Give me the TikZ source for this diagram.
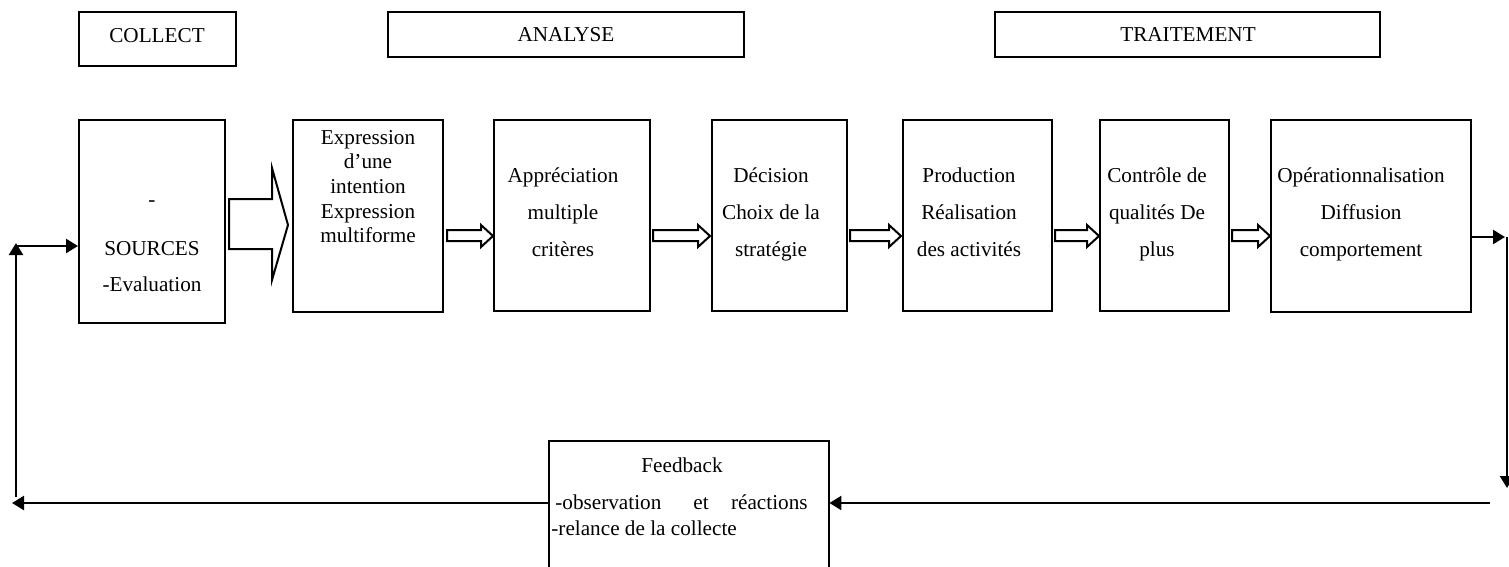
\documentclass[tikz,border=0pt]{standalone}
\usepackage{fontspec}
\setmainfont{Liberation Serif}
\usetikzlibrary{arrows.meta,fit}
\begin{document}
\begin{tikzpicture}[x=0.5pt,y=-0.5pt,
  box/.style={draw, line width=1pt, inner sep=0pt},
  txt/.style={font=\fontsize{10.6}{12}\selectfont, inner sep=0pt, anchor=base},
  flow/.style={line width=1.2pt, -{Triangle[length=6pt,width=7pt]}},
  hollow/.style={draw, line width=1pt, fill=white, line join=miter}]
\useasboundingbox (0,0) rectangle (1509,567);

% phase headers
\node[box, fit={(79,12)(236,66)}] (collect) {};
\node[box, fit={(388,12)(744,57)}] (analyse) {};
\node[box, fit={(995,12)(1380,57)}] (traitement) {};
\node[txt] (collectT) at (157,43) {COLLECT};
\node[txt] (analyseT) at (566,42) {ANALYSE};
\node[txt] (traitementT) at (1188,42) {TRAITEMENT};

% process steps
\node[box, fit={(79,120)(225,323)}] (src) {};
\node[box, fit={(293,120)(443,312)}] (expr) {};
\node[box, fit={(494,120)(650,311)}] (appr) {};
\node[box, fit={(712,120)(847,311)}] (dec) {};
\node[box, fit={(903,120)(1052,311)}] (prod) {};
\node[box, fit={(1100,120)(1229,311)}] (ctrl) {};
\node[box, fit={(1271,120)(1471,312)}] (oper) {};

% step texts
\node[txt] (src1) at (152,206) {-};
\node[txt] (src2) at (152,255) {SOURCES};
\node[txt] (src3) at (152,291) {-Evaluation};

\node[txt] (expr1) at (368,145) {Expression};
\node[txt] (expr2) at (368,169) {d’une};
\node[txt] (expr3) at (368,193) {intention};
\node[txt] (expr4) at (368,218) {Expression};
\node[txt] (expr5) at (368,242) {multiforme};

\node[txt] (appr1) at (563,182) {Appréciation};
\node[txt] (appr2) at (563,219) {multiple};
\node[txt] (appr3) at (563,256) {critères};

\node[txt] (dec1) at (771,182) {Décision};
\node[txt] (dec2) at (771,219) {Choix de la};
\node[txt] (dec3) at (771,256) {stratégie};

\node[txt] (prod1) at (969,182) {Production};
\node[txt] (prod2) at (969,219) {Réalisation};
\node[txt] (prod3) at (969,256) {des activités};

\node[txt] (ctrl1) at (1157,182) {Contrôle de};
\node[txt] (ctrl2) at (1157,219) {qualités De};
\node[txt] (ctrl3) at (1157,256) {plus};

\node[txt] (oper1) at (1361,182) {Opérationnalisation};
\node[txt] (oper2) at (1361,219) {Diffusion};
\node[txt] (oper3) at (1361,256) {comportement};

% feedback box, open at the bottom edge
\node[inner sep=0pt, fit={(549,441)(829,570)}] (fb) {};
\draw[line width=1pt] (fb.south west) |- (fb.north east) -- (fb.south east);
\node[txt] (fb1) at (682,472) {Feedback};
\node[txt, anchor=base west] (fb2) at (555,509) {-observation};
\node[txt] (fb3) at (701,509) {et};
\node[txt, anchor=base east] (fb4) at (808,509) {réactions};
\node[txt, anchor=base west] (fb5) at (551,535) {-relance de la collecte};

% large block arrow from the sources
\draw[hollow] (229,199) -- (272,199) -- (272,168) -- (288,225) -- (272,280)
  -- (272,249) -- (229,249) -- cycle;

% small block arrows between the steps
\newcommand{\blockarrow}[2]{%
  \draw[hollow] (#1,230) -- ({#2-12},230) -- ({#2-12},225) -- (#2,236)
    -- ({#2-12},247) -- ({#2-12},241) -- (#1,241) -- cycle;}
\blockarrow{447}{493}
\blockarrow{653}{710}
\blockarrow{850}{901}
\blockarrow{1055}{1099}
\blockarrow{1232}{1270}

% feedback loop
\coordinate (outA) at (1471,237);
\coordinate (outB) at (1505,237);
\coordinate (downA) at (1507,237);
\coordinate (downB) at (1507,488);
\coordinate (retA) at (1490,503);
\coordinate (retB) at (12,503);
\coordinate (upA) at (16,497);
\coordinate (upB) at (16,243);
\coordinate (inA) at (17,246);

\draw[flow] (outA) -- (outB);
\draw[flow] (downA) -- (downB);
\draw[flow] (retA) -- (fb.east |- retA);
\draw[flow] (fb.west |- retA) -- (retB);
\draw[flow] (upA) -- (upB);
\draw[flow] (inA) -- (src.west |- inA);
\end{tikzpicture}
\end{document}
